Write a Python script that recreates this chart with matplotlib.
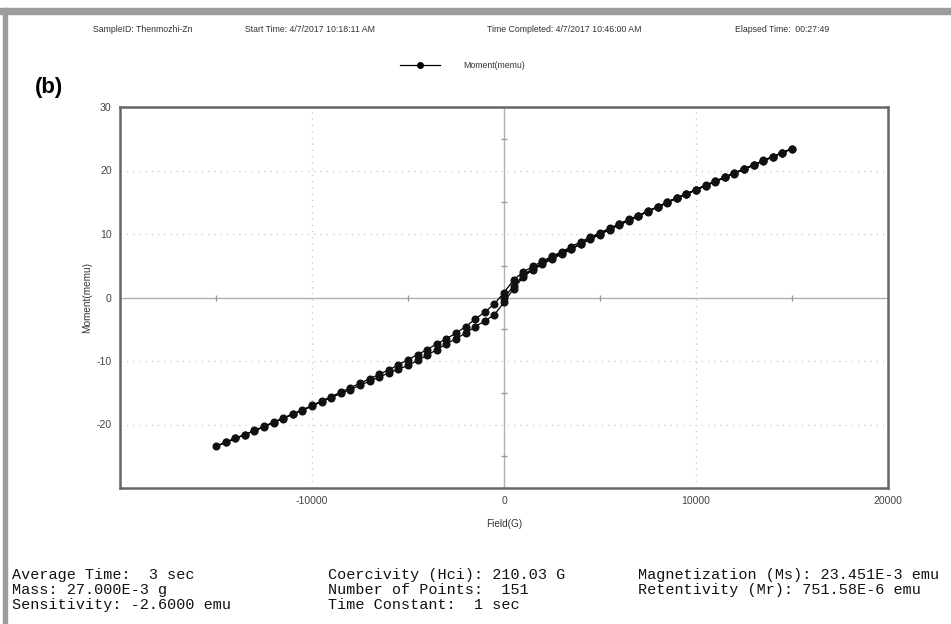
import numpy as np
import matplotlib
matplotlib.use("Agg")
from matplotlib import pyplot as plt
from matplotlib.patches import Rectangle

# field sweep (G) and moment (memu)
field_virgin = list(range(0, 15001, 500))
moment_virgin = [0.0, 1.8, 3.5, 4.6, 5.4, 6.3, 7.0, 7.7, 8.5, 9.3, 10.0,
                 10.8, 11.5, 12.2, 12.9, 13.6, 14.3, 15.0, 15.7, 16.3, 17.0,
                 17.6, 18.3, 18.9, 19.6, 20.2, 20.9, 21.5, 22.2, 22.8, 23.45]

field_down = list(range(14500, -15001, -500))
moment_down = [22.8, 22.2, 21.6, 20.9, 20.3, 19.6, 19.0, 18.3, 17.7, 17.0,
               16.3, 15.7, 15.0, 14.3, 13.6, 12.9, 12.3, 11.6, 10.9, 10.2,
               9.5, 8.8, 8.0, 7.2, 6.5, 5.7, 4.9, 4.0, 2.8, 0.75,
               -1.0, -2.3, -3.4, -4.6, -5.6, -6.5, -7.3, -8.2, -9.0, -9.8,
               -10.6, -11.4, -12.1, -12.8, -13.5, -14.2, -14.9, -15.6, -16.3, -17.0,
               -17.7, -18.3, -19.0, -19.6, -20.3, -20.9, -21.6, -22.2, -22.8, -23.45]

field_up = list(range(-14500, 15001, 500))
moment_up = [-22.8, -22.2, -21.6, -21.0, -20.4, -19.7, -19.1, -18.4, -17.8, -17.1,
             -16.4, -15.8, -15.1, -14.5, -13.8, -13.2, -12.5, -11.9, -11.3, -10.7,
             -9.9, -9.1, -8.2, -7.3, -6.5, -5.6, -4.6, -3.7, -2.7, -0.75,
             1.4, 3.2, 4.4, 5.2, 6.1, 6.8, 7.6, 8.4, 9.2, 9.9,
             10.7, 11.4, 12.1, 12.8, 13.5, 14.2, 14.9, 15.6, 16.3, 16.9,
             17.6, 18.2, 18.9, 19.5, 20.2, 20.8, 21.5, 22.1, 22.8, 23.45]

field = np.array(field_virgin + field_down + field_up)
moment = np.array(moment_virgin + moment_down + moment_up)

header = ["SampleID: Thenmozhi-Zn", "Start Time: 4/7/2017 10:18:11 AM",
          "Time Completed: 4/7/2017 10:46:00 AM", "Elapsed Time:  00:27:49"]
header_x = [93, 245, 487, 735]

footer = [["Average Time:  3 sec", "Mass: 27.000E-3 g", "Sensitivity: -2.6000 emu"],
          ["Coercivity (Hci): 210.03 G", "Number of Points:  151", "Time Constant:  1 sec"],
          ["Magnetization (Ms): 23.451E-3 emu", "Retentivity (Mr): 751.58E-6 emu"]]
footer_x = [12, 328, 638]

W, H = 951, 624
plt.rcParams['font.family'] = ['Liberation Sans', 'DejaVu Sans']
plt.rcParams['axes.unicode_minus'] = False
fig = plt.figure(figsize=(W / 100, H / 100), dpi=100)

# grey frame of the screenshot
fig.patches.append(Rectangle((0, 1 - 14 / H), 1, 6 / H, transform=fig.transFigure,
                             color="#9c9c9c", zorder=0))
fig.patches.append(Rectangle((3 / W, 0), 4 / W, 1 - 8 / H, transform=fig.transFigure,
                             color="#9c9c9c", zorder=0))

ax = fig.add_axes([120 / W, 1 - 488 / H, 768 / W, 381 / H])
ax.set_xlim(-20000, 20000)
ax.set_ylim(-30, 30)
ax.set_xticks([-10000, 0, 10000, 20000])
ax.set_yticks([-20, -10, 0, 10, 20, 30])
ax.tick_params(length=0, labelsize=7.6, labelcolor="#444444", pad=6)
for s in ax.spines.values():
    s.set_color("#666666")
    s.set_linewidth(1.8)

for g in [-10000, 10000]:
    ax.axvline(g, color="#c8c8c8", lw=0.9, ls=(0, (1, 4)), zorder=1)
for g in [-20, -10, 10, 20]:
    ax.axhline(g, color="#c8c8c8", lw=0.9, ls=(0, (1, 4)), zorder=1)
ax.axhline(0, color="#b0b0b0", lw=1.0, zorder=1)
ax.axvline(0, color="#b0b0b0", lw=1.0, zorder=1)
ax.plot([-15000, -5000, 5000, 15000], [0] * 4, ls="none", marker="|",
        ms=4, color="#999999", zorder=1)
ax.plot([0] * 6, [-25, -15, -5, 5, 15, 25], ls="none", marker="_",
        ms=4, color="#999999", zorder=1)

ax.plot(field, moment, color="black", lw=0.9, marker="o", ms=4.8,
        markerfacecolor="#111111", markeredgecolor="#111111", zorder=3)

ax.set_xlabel("Field(G)", fontsize=7.2, color="#333333", labelpad=9)
ax.set_ylabel("Moment(memu)", fontsize=7.2, color="#333333", labelpad=3)

for t, x in zip(header, header_x):
    fig.text(x / W, 1 - 29 / H, t, fontsize=6.3, color="#333333", va="center")

# legend drawn by hand in figure space
fig.add_artist(plt.Line2D([400 / W, 440 / W], [1 - 65 / H] * 2, color="black",
                          lw=0.9, transform=fig.transFigure))
fig.add_artist(plt.Line2D([420 / W], [1 - 65 / H], color="black", marker="o", ms=4,
                          transform=fig.transFigure))
fig.text(463 / W, 1 - 65 / H, "Moment(memu)", fontsize=6.3, color="#333333", va="center")

fig.text(35 / W, 1 - 88 / H, "(b)", fontsize=16, fontweight="bold", va="center")

for col, x in zip(footer, footer_x):
    for i, t in enumerate(col):
        fig.text(x / W, 1 - (575 + 15 * i) / H, t, fontsize=10.9,
                 family="Liberation Mono", color="#111111", va="center")

fig.savefig("out.png", dpi=100)
